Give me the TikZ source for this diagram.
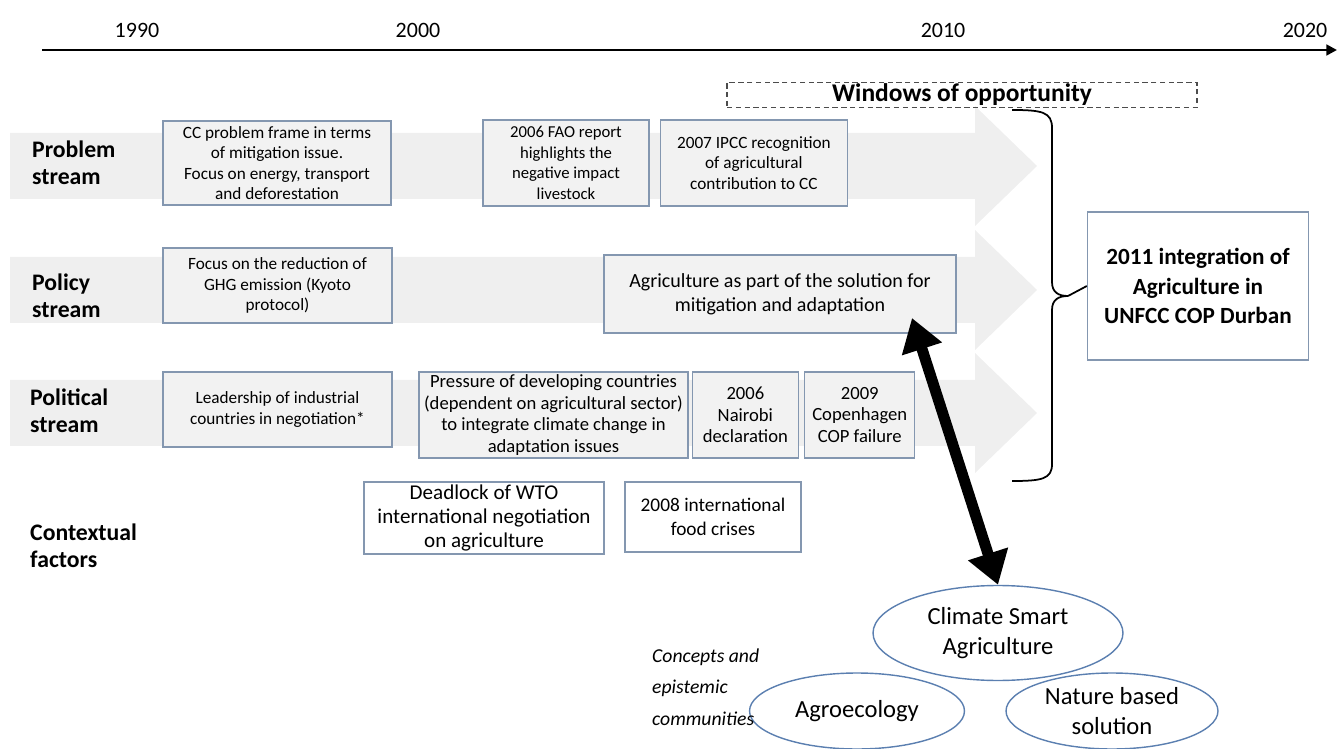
\documentclass[tikz,border=0pt]{standalone}
\usepackage{fontspec}
\setmainfont{Carlito}
\usepackage{tikz}
\usetikzlibrary{positioning,shapes.geometric,arrows.meta}
\definecolor{boxblue}{HTML}{8497B0}
\definecolor{bandgray}{HTML}{EFEFEF}
\definecolor{boxfill}{HTML}{F2F2F2}
\definecolor{ellblue}{HTML}{5B7FB0}

\tikzset{
  yearlab/.style={font=\fontsize{12.5}{15}\selectfont},
  streamlab/.style={anchor=west, align=left, font=\bfseries\fontsize{13.5}{15.6}\selectfont},
  evbox/.style={draw=boxblue, fill=boxfill, line width=0.8pt, align=center, inner sep=1pt, font=\fontsize{9.8}{11.6}\selectfont},
  polbox/.style={evbox, font=\fontsize{10.6}{12.2}\selectfont},
  ctxbox/.style={evbox, fill=white, font=\fontsize{11}{13.6}\selectfont},
  concept/.style={ellipse, draw=ellblue, line width=0.8pt, inner sep=0pt, align=center, font=\fontsize{14}{17}\selectfont},
}

\begin{document}
\begin{tikzpicture}[x=0.02cm, y=-0.02cm]
  \useasboundingbox (0,0) rectangle (1338,749);

  \foreach \c in {166,290,413}
    \fill[bandgray] (10,\c-33) -- (975,\c-33) -- (975,\c-60) -- (1037,\c) -- (975,\c+60) -- (975,\c+33) -- (10,\c+33) -- cycle;

  \coordinate (tlstart) at (42,50);
  \coordinate (tlend) at (1337,50);
  \draw[line width=1.6pt, -{Triangle[length=6pt,width=6pt]}] (tlstart) -- (tlend);
  \node[yearlab] (y1990) at (137,30) {1990};
  \node[yearlab] (y2000) at (418,30) {2000};
  \node[yearlab] (y2010) at (943,30) {2010};
  \node[yearlab] (y2020) at (1305,30) {2020};

  \node[draw=gray!60!black, dash pattern=on 3pt off 2pt, line width=0.8pt, minimum width=9.4cm, minimum height=0.48cm, inner sep=1pt, font=\bfseries\fontsize{14.5}{16}\selectfont] (windows) at (962,95) {Windows of opportunity};

  \node[streamlab] (problem) at (26,163) {Problem\\stream};
  \node[streamlab] (policy) at (26,296) {Policy\\stream};
  \node[streamlab] (political) at (24,411) {Political\\stream};
  \node[streamlab] (context) at (24,546) {Contextual\\factors};

  \node[evbox, minimum width=4.56cm, minimum height=1.68cm] (ccframe) at (277,163) {CC problem frame in terms\\of mitigation issue.\\Focus on energy, transport\\and deforestation};
  \node[evbox, minimum width=3.32cm, minimum height=1.72cm, font=\fontsize{9.5}{11.6}\selectfont] (fao) at (566,163) {2006 FAO report\\highlights the\\negative impact\\livestock};
  \node[evbox, minimum width=3.74cm, minimum height=1.72cm, right=0.2cm of fao] (ipcc) {2007 IPCC recognition\\of agricultural\\contribution to CC};

  \node[evbox, minimum width=4.58cm, minimum height=1.5cm] (ghg) at (277.5,285.5) {Focus on the reduction of\\GHG emission (Kyoto\\protocol)};
  \node[evbox, minimum width=7.04cm, minimum height=1.56cm, font=\fontsize{11.4}{13.6}\selectfont] (agri) at (780,294) {Agriculture as part of the solution for\\mitigation and adaptation};

  \node[evbox, minimum width=4.58cm, minimum height=1.5cm] (lead) at (277.5,409.5) {Leadership of industrial\\countries in negotiation*};
  \node[polbox, minimum width=5.38cm, minimum height=1.72cm] (pressure) at (553.5,415) {Pressure of developing countries\\(dependent on agricultural sector)\\to integrate climate change in\\adaptation issues};
  \node[polbox, minimum width=2.12cm, minimum height=1.72cm, right=0.06cm of pressure] (nairobi) {2006\\Nairobi\\declaration};
  \node[polbox, minimum width=2.2cm, minimum height=1.72cm, right=0.1cm of nairobi] (copen) {2009\\Copenhagen\\COP failure};

  \node[ctxbox, minimum width=4.8cm, minimum height=1.44cm, font=\fontsize{12}{13.6}\selectfont] (deadlock) at (484,518) {Deadlock of WTO\\international negotiation\\on agriculture};
  \node[ctxbox, minimum width=3.52cm, minimum height=1.4cm] (food) at (713,517) {2008 international\\food crises};

  \node[draw=boxblue, line width=0.8pt, minimum width=4.42cm, minimum height=2.96cm, align=center, font=\bfseries\fontsize{13.2}{17}\selectfont] (durban) at (1198,286) {2011 integration of\\Agriculture in\\UNFCC COP Durban};

  \draw[line width=1pt] (1012,110) .. controls (1042,110) and (1052,112) .. (1052,128) -- (1052,282) .. controls (1052,292) and (1058,296) .. (1068,296) coordinate (cusp) .. controls (1058,296) and (1052,300) .. (1052,310) -- (1052,464) .. controls (1052,479) and (1042,481) .. (1012,481);
  \draw[line width=1pt] (cusp) -- (durban.west);

  \node[concept, minimum width=5cm, minimum height=1.9cm] (csa) at (998,633) {Climate Smart\\Agriculture};
  \node[concept, minimum width=4.3cm, minimum height=1.52cm] (agroeco) at (857,711) {Agroecology};
  \node[concept, minimum width=4.24cm, minimum height=1.52cm] (nbs) at (1112,711) {Nature based\\solution};
  \node[anchor=west, align=left, font=\itshape\fontsize{11.2}{18}\selectfont] (concepts) at (646,687) {Concepts and\\epistemic\\communities};

  \coordinate (uptip) at (912,318);
  \draw[line width=0.22cm, {Triangle[length=0.65cm,width=0.8cm]}-{Triangle[length=0.65cm,width=0.8cm]}] (uptip) -- (csa.north);
\end{tikzpicture}
\end{document}
